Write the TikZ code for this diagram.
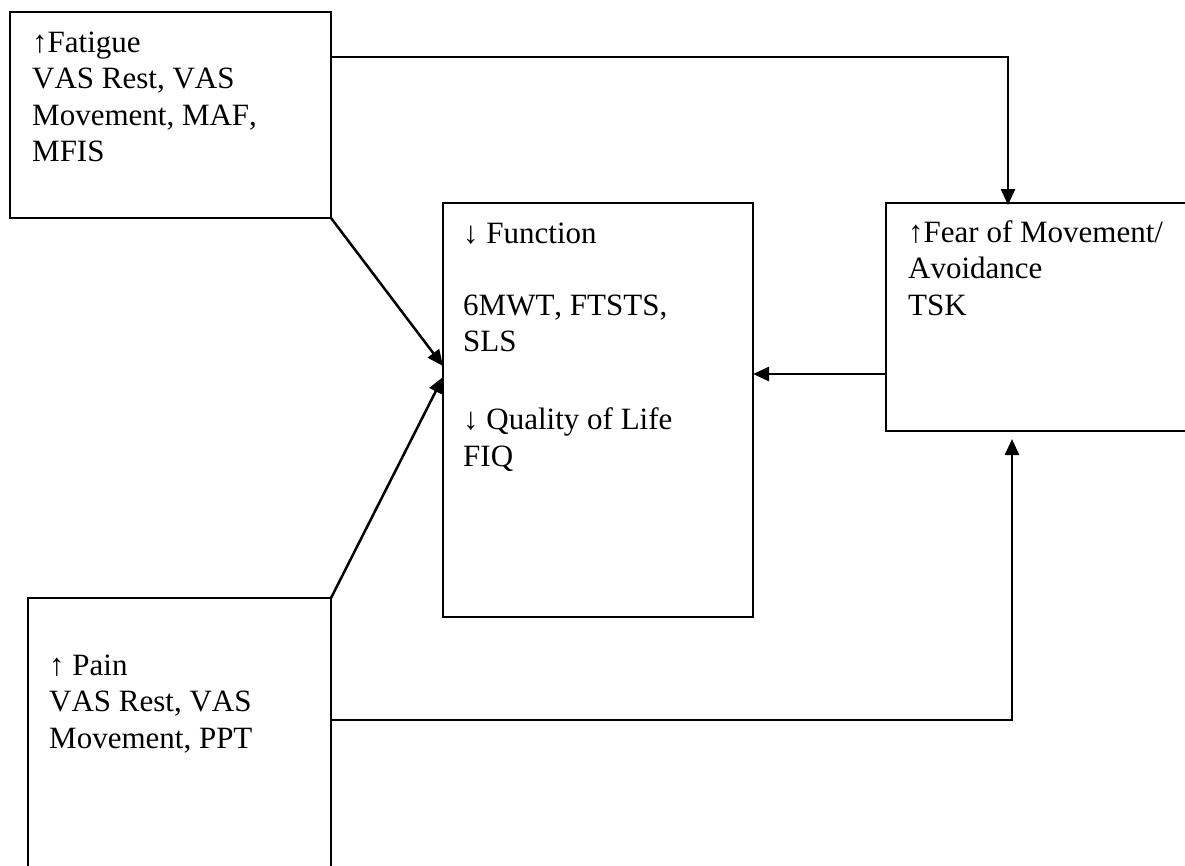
\documentclass[tikz,border=0pt]{standalone}
\usepackage{fontspec}
\setmainfont[Kerning=Off]{Liberation Serif}
\usetikzlibrary{arrows.meta}
\begin{document}
\begin{tikzpicture}[x=1pt,y=-1pt,
  box/.style={draw, line width=2pt, rectangle, inner sep=0pt, outer sep=0pt, anchor=north west},
  label/.style={anchor=base west, inner sep=0pt, align=left,
    font=\fontsize{31}{36.5}\selectfont},
  link/.style={line width=2.5pt},
  arr/.style={link, -{Triangle[length=16pt,width=14pt]}}]
\useasboundingbox (0,0) rectangle (1185,865);
\clip (0,0) rectangle (1185,865);

% boxes
\node[box, minimum width=321pt, minimum height=206pt] (fat) at (10,12) {};
\node[box, minimum width=310pt, minimum height=414pt] (func) at (443,203) {};
\node[box, minimum width=320pt, minimum height=228pt] (fear) at (886,203) {};
\node[box, minimum width=303pt, minimum height=290pt] (pain) at (28,598) {};

% box texts (placed by the baseline of their last line)
\node[label] (fattxt) at (32,161.5) {↑Fatigue\\VAS Rest, VAS\\Movement, MAF,\\MFIS};
\node[label] (functxt) at (463,466) {↓ Function\\[35.5pt]6MWT, FTSTS,\\SLS\\[41.5pt]↓ Quality of Life\\FIQ};
\node[label] (feartxt) at (908,315) {↑Fear of Movement/\\Avoidance\\TSK};
\node[label] (paintxt) at (49,748) {↑ Pain\\VAS Rest, VAS\\Movement, PPT};

% connector anchor points
\coordinate (fatout) at (331,57);
\coordinate (fearin) at (1008,205);
\coordinate (funcin1) at (443,366);
\coordinate (funcin2) at (443,377);
\coordinate (fearout) at (886,374);
\coordinate (funcin3) at (753,374);
\coordinate (painout) at (331,720);
\coordinate (fearin2) at (1012,439);

% connectors
\draw[arr] (fatout) -| (fearin);
\draw[arr] (fat.south east) -- (funcin1);
\draw[arr] (pain.north east) -- (funcin2);
\draw[arr] (fearout) -- (funcin3);
\draw[arr] (painout) -| (fearin2);
\end{tikzpicture}
\end{document}
